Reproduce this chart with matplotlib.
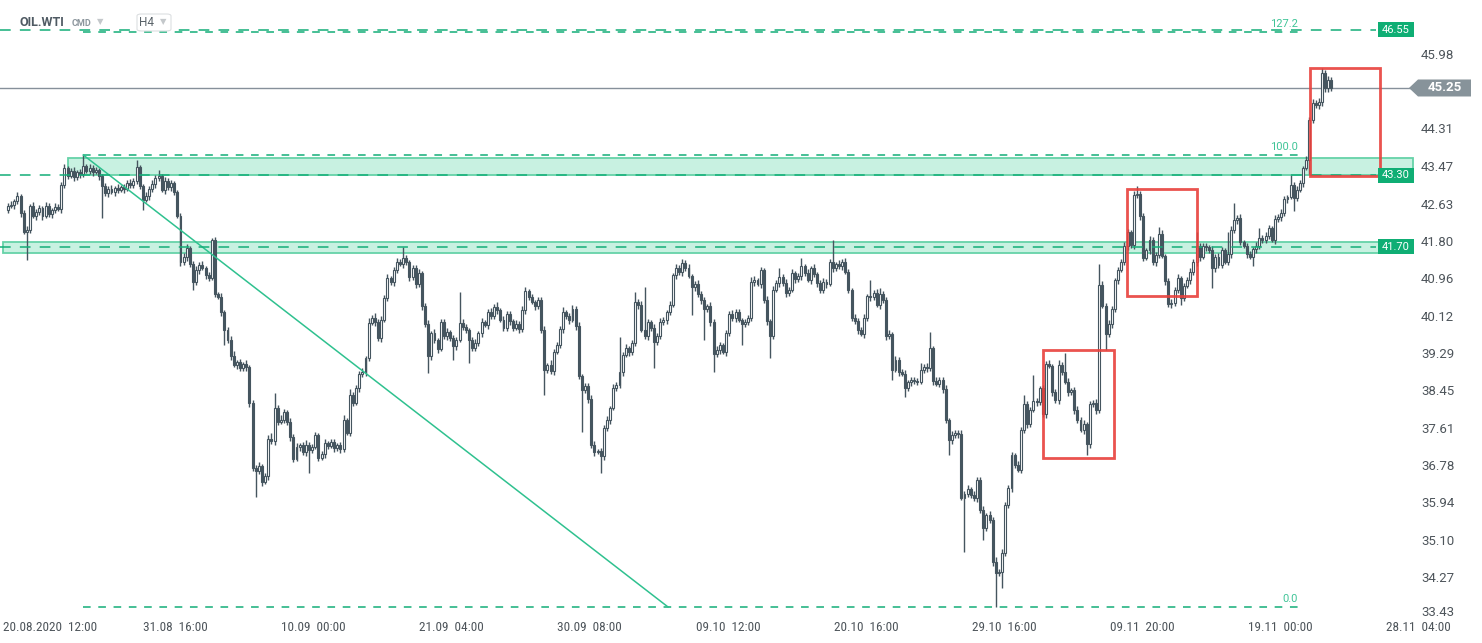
import numpy as np
import matplotlib
matplotlib.use("Agg")
import matplotlib.pyplot as plt
from matplotlib.patches import Rectangle, Polygon, FancyBboxPatch
from matplotlib import font_manager

# ---------------- data ----------------
first_open = 42.52
closes = [
42.61,42.63,42.72,42.83,42.45,42.03,42.07,42.61,42.38,42.47,
42.56,42.38,42.61,42.43,42.52,42.59,42.54,43.08,43.46,43.28,
43.39,43.26,43.37,43.32,43.50,43.39,43.46,43.37,43.41,43.28,
43.06,42.90,42.99,42.92,43.01,42.97,43.03,42.99,43.12,43.08,
43.17,43.48,43.06,42.74,42.83,42.99,43.10,43.23,43.28,42.97,
43.17,43.03,43.12,42.92,42.38,41.35,41.47,41.67,41.31,40.91,
41.17,41.29,41.22,41.06,41.00,41.85,40.64,40.57,40.23,39.83,
39.61,39.25,39.05,39.11,38.98,39.07,39.00,38.20,36.74,36.67,
36.79,36.43,36.56,37.39,37.35,38.08,37.77,37.82,38.00,37.77,
37.44,36.94,37.21,37.26,37.10,37.26,37.14,37.21,37.48,36.97,
37.06,37.30,37.23,37.32,37.19,37.26,37.17,37.82,37.53,38.38,
38.20,38.53,38.85,38.89,39.20,39.99,40.10,40.01,39.65,40.06,
40.55,41.00,40.91,41.17,41.35,41.31,41.44,41.35,41.02,41.22,
40.86,41.11,40.37,39.97,39.25,39.76,39.61,39.41,40.01,39.70,
39.79,39.65,39.47,39.61,39.99,39.90,39.83,39.61,39.43,39.54,
39.76,40.01,39.94,40.23,40.14,40.35,40.28,40.06,39.88,40.19,
40.03,39.88,39.97,39.85,40.28,40.70,40.57,40.46,40.37,40.50,
39.83,38.94,39.05,38.91,39.34,39.50,39.85,40.23,40.14,40.06,
40.30,39.92,38.80,38.49,38.58,38.29,37.26,37.10,37.12,37.01,
37.64,37.82,38.08,38.53,38.60,38.89,39.27,39.43,39.34,39.54,
40.46,40.39,39.83,39.70,40.01,39.88,39.56,39.70,40.01,40.06,
40.23,40.39,41.06,41.22,41.13,41.33,41.22,41.04,40.79,40.86,
40.64,40.50,40.30,40.37,40.01,39.29,39.38,39.50,39.34,39.76,
40.19,40.10,40.23,40.06,39.97,40.01,40.10,40.91,40.95,40.86,
41.17,40.50,40.03,39.70,40.73,40.88,41.02,40.88,40.66,40.73,
41.11,40.97,41.04,41.26,41.11,40.95,41.22,41.08,40.88,40.73,
40.91,40.86,41.35,41.22,41.31,41.26,41.35,41.13,40.73,40.10,
40.03,39.83,39.74,40.10,40.59,40.57,40.66,40.39,40.64,40.50,
39.70,39.74,38.94,39.16,38.89,38.85,38.53,38.67,38.71,38.69,
38.67,38.94,39.00,38.98,39.43,38.69,38.62,38.71,38.51,37.82,
37.37,37.48,37.53,37.50,36.07,36.16,36.27,36.14,36.07,36.47,
35.80,35.40,35.69,35.58,34.64,34.39,34.41,34.84,35.91,36.29,
37.03,36.81,36.70,37.59,38.17,37.73,38.04,38.24,38.22,38.53,
37.95,39.07,39.03,38.44,38.26,39.05,38.89,38.67,38.44,38.49,
38.04,37.82,37.59,37.73,37.28,38.17,38.20,38.04,40.84,40.37,
39.74,39.97,40.30,40.95,41.17,41.35,41.71,42.03,41.73,42.85,
42.88,42.38,41.44,41.62,41.85,41.35,41.51,41.98,41.49,40.93,
40.41,40.43,40.73,41.00,40.55,40.82,40.95,41.13,41.35,41.71,
41.47,41.71,41.69,41.62,41.22,41.47,41.29,41.62,41.35,41.53,
42.07,42.29,42.34,41.80,41.71,41.53,41.47,41.64,41.71,41.89,
41.85,41.94,42.12,41.85,42.32,42.36,42.45,42.76,42.81,43.08,
42.79,42.97,43.12,43.46,43.64,44.53,44.91,44.86,44.94,45.59,
45.25,45.43,45.25]

# wick lengths above / below the candle body, in cents
upper_wick_cents = [
6,8,5,10,4,7,9,5,8,6, 7,4,9,6,5,8,6,7,9,5, 6,8,4,7,25,5,9,6,8,4,
5,7,6,9,4,8,5,7,6,10, 6,16,5,4,8,6,9,7,13,5, 8,6,7,5,4,6,9,8,5,7,
10,6,8,5,7,4,6,5,8,6, 7,9,12,6,8,5,9,4,6,7, 8,5,6,9,14,34,7,10,6,5,
8,6,9,5,7,10,6,8,7,5, 6,9,5,8,7,4,6,10,5,14, 6,8,7,9,5,11,6,12,7,8,
6,9,5,7,10,6,25,8,5,7, 6,9,5,7,8,6,10,5,7,6, 9,5,7,6,69,8,6,5,7,9,
6,8,5,7,9,6,10,5,8,6, 7,5,9,6,8,10,6,7,5,8, 6,9,5,12,7,6,8,12,5,7,
9,6,8,5,7,6,9,8,5,7, 6,8,5,9,7,78,6,8,5,7, 22,6,8,96,7,5,9,6,8,7,
6,9,5,8,7,10,6,8,5,7, 9,6,7,5,8,6,9,7,5,8, 6,9,7,8,5,7,6,10,8,5,
7,6,9,5,8,6,20,7,9,6, 8,5,7,18,6,9,5,8,6,7, 9,6,7,50,5,8,6,9,7,5,
8,6,7,9,5,36,6,8,13,7, 6,9,5,8,7,6,9,5,8,6, 7,15,6,9,36,5,8,6,7,9,
5,8,6,7,9,6,10,5,8,6, 7,9,5,8,6,10,7,9,6,8, 7,5,9,6,21,8,6,58,7,5,
8,6,9,5,7,10,6,42,8,5, 7,9,6,8,5,7,6,9,47,8, 6,9,7,5,8,6,9,7,5,10,
18,6,8,5,9,7,6,16,8,5, 7,9,6,8,5,7,6,9,8,32, 6,8,7,5,9,6,8,7,5,50,
8,38,6,9,5,7,8,6,9,23, 6,8,7,5,9,6,8,7,5,22, 6,9,7,5,8,6,10,7,8,11,
7,9,6]
lower_wick_cents = [
7,5,9,6,8,4,63,7,5,9, 6,8,5,7,9,6,4,8,6,7, 5,9,6,8,7,5,6,9,4,8,
72,6,8,5,9,7,6,10,5,7, 8,6,7,22,5,9,6,8,7,5, 9,6,8,7,5,8,6,9,7,18,
6,8,5,9,7,6,8,5,9,34, 6,8,5,9,7,6,8,10,6,58, 7,9,5,8,6,9,7,5,8,6,
9,7,5,8,6,9,51,7,5,8, 6,9,7,5,8,6,9,7,5,8, 7,5,9,6,8,7,5,9,6,8,
5,8,6,9,7,5,8,6,9,7, 8,6,9,7,38,8,6,9,5,7, 9,6,31,8,5,7,6,52,8,6,
7,9,5,8,6,7,9,5,8,6, 9,7,5,8,6,9,7,5,8,6, 7,56,8,6,9,5,7,8,6,9,
5,8,6,94,7,9,6,8,5,38, 8,6,9,5,7,6,8,5,9,7, 6,8,5,7,9,6,58,7,8,6,
9,7,5,8,6,9,7,5,62,8, 6,9,69,7,8,40,6,9,5,8, 7,6,9,5,48,8,6,7,9,5,
8,6,9,50,7,5,8,6,9,7, 5,8,6,9,7,5,8,6,9,7, 6,9,5,8,7,6,9,5,8,6,
7,9,5,8,6,9,7,5,8,6, 9,7,23,6,8,5,20,7,9,6, 8,5,7,9,6,8,5,7,9,6,
34,8,6,9,5,121,7,8,6,9, 7,27,6,8,9,76,7,36,8,6, 9,7,5,8,6,9,7,5,8,6,
7,9,5,8,6,9,7,5,8,6, 9,7,5,8,25,9,6,8,7,5, 36,7,9,6,8,5,7,9,6,8,
6,9,7,5,8,6,9,7,5,8, 7,9,6,8,16,7,5,9,6,8, 9,6,8,7,45,9,6,8,5,7,
8,6,9,7,5,8,6,21,9,7, 6,8,7,5,9,6,8,7,9,5, 30,8,6,9,5,32,7,6,8,9,
10,8,7]

x_labels = ["20.08.2020  12:00", "31.08  16:00", "10.09  00:00", "21.09  04:00",
            "30.09  08:00", "09.10  12:00", "20.10  16:00", "29.10  16:00",
            "09.11  20:00", "19.11  00:00", "28.11  04:00"]
y_labels = [45.98, 44.31, 43.47, 42.63, 41.80, 40.96, 40.12, 39.29, 38.45,
            37.61, 36.78, 35.94, 35.10, 34.27, 33.43]
last_price = 45.25
level_upper = 43.30
level_lower = 41.70
level_top = 46.55
zone_upper = (43.31, 43.69)
zone_lower = (41.55, 41.81)
fib_ratios = [0.0, 100.0, 127.2]
fib_low_bar, fib_high_bar = 315, 24
red_boxes = [(330.0, 352.7, 36.97, 39.38),
             (356.8, 379.1, 40.59, 42.99),
             (415.2, 437.5, 43.28, 45.70)]

# ---------------- fonts ----------------
installed = {f.name for f in font_manager.fontManager.ttflist}
narrow = [n for n in ("Liberation Sans Narrow", "DejaVu Sans Condensed",
                      "Roboto Condensed", "Open Sans Condensed") if n in installed]
if narrow:
    XFONT = dict(family=narrow[0], fontsize=9.5)
    if narrow[0] == "DejaVu Sans Condensed":
        XFONT = dict(family="DejaVu Sans", stretch="condensed", fontsize=8.5)
else:
    XFONT = dict(family="Roboto", fontsize=8.5)
XSEP_SINGLE = not narrow

# ---------------- geometry helpers ----------------
W, H = 1482, 643
PXB = 3.136          # pixels per bar
X0 = 8               # pixel of bar 0
PTOP = 47.22         # price at top pixel row
PPX = 0.02239        # price per pixel
def X(px): return (px - X0) / PXB
def P(py): return PTOP - PPX * py
def PY(p): return (PTOP - p) / PPX

DARK = "#45555f"
GREEN = "#14ae78"
GREEN_T = "#3fc497"
ZONE_F = "#c8f1e1"
ZONE_E = "#66d2a8"
GRAY_TXT = "#4e555b"

fig = plt.figure(figsize=(W / 100, H / 100), dpi=100)
ax = fig.add_axes([0, 23 / H, 1, 620 / H])
ax.set_xlim(X(0), X(W))
ax.set_ylim(P(620), P(0))
ax.axis("off")

c = np.array(closes)
o = np.r_[first_open, c[:-1]]
hi = np.maximum(o, c) + np.array(upper_wick_cents) / 100
lo = np.minimum(o, c) - np.array(lower_wick_cents) / 100
xs = np.arange(len(c))
up = c >= o

# zones
for (a, b), left_px in ((zone_upper, 68), (zone_lower, 3)):
    ax.add_patch(Rectangle((X(left_px), a), X(1413) - X(left_px), b - a,
                           facecolor=ZONE_F, edgecolor=ZONE_E, lw=1.3, zorder=1))

# candles
ax.vlines(xs, lo, hi, color=DARK, lw=1.0, zorder=3)
ax.bar(xs, np.maximum(np.abs(c - o), 0.012), bottom=np.minimum(o, c), width=0.62,
       color=np.where(up, "white", DARK), edgecolor=DARK, linewidth=0.8, zorder=4)

# fibonacci
f_low = lo[fib_low_bar]
f_high = hi[fib_high_bar]
fib_end = X(1302)
for r in fib_ratios:
    lvl = f_low + (f_high - f_low) * r / 100
    ax.plot([fib_high_bar, fib_end], [lvl, lvl], color=GREEN, lw=1.1,
            dashes=(5, 5), zorder=5)
    ax.text(X(1298), lvl + 3 * PPX, f"{r:.1f}", color=GREEN_T, fontsize=8,
            family="Roboto", ha="right", va="bottom", zorder=6)

# trend line from the high
ax.plot([fib_high_bar, X(668)], [f_high, f_low], color="#2fc18f", lw=1.1, zorder=5)

# horizontal levels
for lvl in (level_top, level_upper, level_lower):
    ax.plot([X(0), X(1376)], [lvl, lvl], color=GREEN, lw=1.1, dashes=(7, 6), zorder=5)

# current price line
ax.plot([X(0), X(1410)], [last_price, last_price], color="#86909a", lw=1.0, zorder=2)

# red boxes
for x1, x2, p1, p2 in red_boxes:
    ax.add_patch(Rectangle((x1, p1), x2 - x1, p2 - p1, fill=False,
                           edgecolor="#e8403c", lw=2.0, alpha=0.9, zorder=6))

# green price tags
th = 15 * PPX
for lvl in (level_top, level_upper, level_lower):
    ax.add_patch(Rectangle((X(1378), lvl - th / 2), X(1414) - X(1378), th,
                           facecolor="#0fae74", edgecolor="none", zorder=7, clip_on=False))
    ax.text((X(1378) + X(1414)) / 2, lvl, f"{lvl:.2f}", color="white", fontsize=8,
            family="Roboto", ha="center", va="center", zorder=8)

# last price tag
gh = 17 * PPX
ax.add_patch(Polygon([(X(1409), last_price), (X(1418), last_price + gh / 2),
                      (X(1471), last_price + gh / 2), (X(1471), last_price - gh / 2),
                      (X(1418), last_price - gh / 2)],
                     closed=True, facecolor="#87939a", edgecolor="none", zorder=7))
ax.text(X(1445), last_price, f"{last_price:.2f}", color="white", fontsize=9.5,
        fontweight="bold", family="Roboto", ha="center", va="center", zorder=8)

# right axis labels
for v in y_labels:
    ax.text(X(1421), P(min(PY(v), 612)), f"{v:.2f}", color=GRAY_TXT, fontsize=9.5,
            family="Roboto", ha="left", va="center", clip_on=False)

# bottom axis labels
tick_bars = 9.3 + 44.05 * np.arange(len(x_labels))
for i, (t, lab) in enumerate(zip(tick_bars, x_labels)):
    if XSEP_SINGLE:
        lab = lab.replace("  ", " ")
    if i == 0:
        ax.text(X(3), P(627), lab, color=GRAY_TXT, ha="left", va="center",
                clip_on=False, **XFONT)
    else:
        ax.text(t, P(627), lab, color=GRAY_TXT, ha="center", va="center",
                clip_on=False, **XFONT)

# header
fig.text(20 / W, 1 - 23 / H, "OIL.WTI", color="#4f5a63", fontsize=9, fontweight="bold",
         family="Roboto", ha="left", va="center")
fig.text(72 / W, 1 - 24 / H, "CMD", color="#8d979e", fontsize=6.5, fontweight="bold",
         family="Roboto", ha="left", va="center")
fig.text(100 / W, 1 - 22 / H, "\u25BC", color="#c4c8cb", fontsize=6, ha="center", va="center")
fig.patches.append(FancyBboxPatch((137 / W, 1 - 31 / H), 34 / W, 17 / H,
                                  boxstyle="round,pad=0,rounding_size=0.003",
                                  transform=fig.transFigure, facecolor="white",
                                  edgecolor="#dcdfe1", lw=0.8, zorder=9))
fig.text(147 / W, 1 - 23 / H, "H4", color="#5a6369", fontsize=8.5, family="Roboto",
         ha="center", va="center", zorder=10)
fig.text(163 / W, 1 - 22 / H, "\u25BC", color="#c4c8cb", fontsize=6, ha="center",
         va="center", zorder=10)

fig.savefig("out.png", dpi=100, facecolor="white")
